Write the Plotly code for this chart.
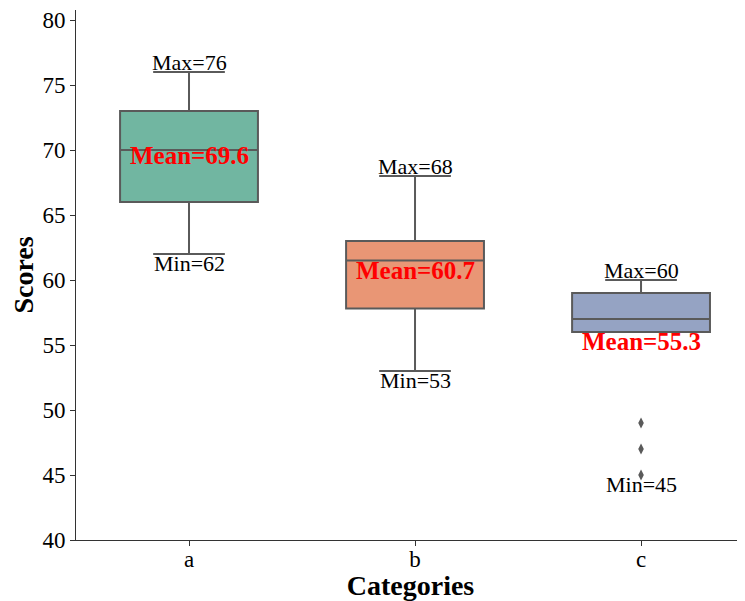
import plotly.graph_objects as go

categories = ["a", "b", "c"]
q1 = [66, 57.8, 56]
median = [70, 61.5, 57]
q3 = [73, 63, 59]
lower_fence = [62, 53, 56]
upper_fence = [76, 68, 60]
means = [69.6, 60.7, 55.3]
maxima = [76, 68, 60]
minima = [62, 53, 45]
outlier_cat = ["c", "c", "c"]
outlier_vals = [49, 47, 45]
colors = ["#71b6a1", "#e99675", "#95a3c3"]

FONT = "Liberation Serif, Times New Roman, serif"
LINE = "#5a5a5a"

fig = go.Figure()
for i, c in enumerate(categories):
    fig.add_trace(go.Box(
        x=[c], q1=[q1[i]], median=[median[i]], q3=[q3[i]],
        lowerfence=[lower_fence[i]], upperfence=[upper_fence[i]],
        fillcolor=colors[i], line=dict(color=LINE, width=2),
        width=0.61, whiskerwidth=0.52, boxpoints=False, showlegend=False,
        hoverinfo="skip",
    ))

fig.add_trace(go.Scatter(
    x=outlier_cat, y=outlier_vals, mode="markers",
    marker=dict(symbol="diamond-tall", size=8, color=LINE),
    showlegend=False, hoverinfo="skip",
))

for i, c in enumerate(categories):
    fig.add_annotation(x=c, y=maxima[i], text=f"Max={maxima[i]}", showarrow=False,
                       yanchor="bottom", yshift=-5,
                       font=dict(family=FONT, size=22, color="black"))
    fig.add_annotation(x=c, y=minima[i], text=f"Min={minima[i]}", showarrow=False,
                       yanchor="top", yshift=5,
                       font=dict(family=FONT, size=22, color="black"))
    fig.add_annotation(x=c, y=means[i], text=f"<b>Mean={means[i]}</b>", showarrow=False,
                       yanchor="middle",
                       font=dict(family=FONT, size=25, color="red"))

fig.update_layout(
    width=737, height=593,
    margin=dict(l=68, r=0, t=2, b=61),
    plot_bgcolor="white", paper_bgcolor="white",
    boxmode="overlay",
    font=dict(family=FONT, color="black"),
)
fig.update_xaxes(
    type="category", categoryorder="array", categoryarray=categories,
    range=[-0.5, 2.46], showgrid=False, zeroline=False,
    showline=True, linecolor="#333333", linewidth=1,
    ticks="outside", ticklen=5, tickcolor="#333333",
    tickfont=dict(family=FONT, size=23), ticklabelstandoff=-7,
    title=dict(text="<b>Categories</b>", font=dict(family=FONT, size=28), standoff=4),
)
fig.update_yaxes(
    range=[40, 80.77], tickvals=[40, 45, 50, 55, 60, 65, 70, 75, 80],
    showgrid=False, zeroline=False,
    showline=True, linecolor="#333333", linewidth=1,
    ticks="outside", ticklen=5, tickcolor="#333333",
    tickfont=dict(family=FONT, size=23),
    title=dict(text="<b>Scores</b>", font=dict(family=FONT, size=28), standoff=8),
)

fig.write_html("out.html")
